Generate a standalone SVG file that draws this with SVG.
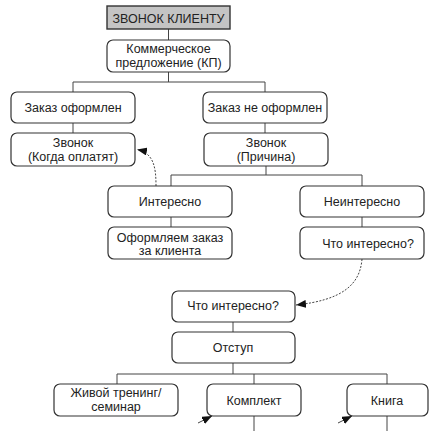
<svg xmlns="http://www.w3.org/2000/svg" width="438" height="431" viewBox="0 0 438 431">
<defs>
<style>
.box{fill:#fff;stroke:#333;stroke-width:1.2}
.top{fill:#c4c4c4;stroke:#333;stroke-width:1.4}
.t{font-family:"Liberation Sans",Arial,sans-serif;font-size:12.5px;fill:#222;text-anchor:middle}
.ln{fill:none;stroke:#444;stroke-width:1}
.dash{fill:none;stroke:#444;stroke-width:1;stroke-dasharray:2 1.5}
</style>
<marker id="ah" viewBox="0 0 10 8" refX="10" refY="4" markerWidth="10" markerHeight="8" markerUnits="userSpaceOnUse" orient="auto">
<path d="M0,0 L10,4 L0,8 Z" fill="#111"/>
</marker>
</defs>
<rect width="438" height="431" fill="#fff"/>
<g id="connectors">
<path class="ln" d="M168.5,29V40"/>
<path class="ln" d="M168.5,72V82M73,92V82H265V92"/>
<path class="ln" d="M73,123V133M265,123V133"/>
<path class="ln" d="M266,166V175M171,186V175H362V186"/>
<path class="ln" d="M171,217V227M362,217V227"/>
<path class="ln" d="M233,322V332"/>
<path class="ln" d="M233,363V374M117,384V374H387V384M254,374V384"/>
<path class="ln" d="M254,416V431M387,416V431"/>
<path class="dash" d="M156,186C156,168 154,153 137,149.5" marker-end="url(#ah)"/>
<path class="dash" d="M362,259C360,285 342,300 296,305" marker-end="url(#ah)"/>
<path class="ln" d="M198,423L212,416" marker-end="url(#ah)"/>
<path class="ln" d="M338,423L352,416" marker-end="url(#ah)"/>
</g>
<g id="n_top"><rect class="top" x="107" y="6" width="123" height="23"/><text class="t" x="168.5" y="22.5">ЗВОНОК КЛИЕНТУ</text></g>
<g id="n_kp"><rect class="box" x="107" y="40" width="123" height="32" rx="6"/><text class="t" x="168.5" y="52.5">Коммерческое</text><text class="t" x="168.5" y="66.5">предложение (КП)</text></g>
<g id="n_zo"><rect class="box" x="11" y="92" width="124" height="31" rx="6"/><text class="t" x="73" y="111.5">Заказ оформлен</text></g>
<g id="n_zno"><rect class="box" x="203" y="92" width="124" height="31" rx="6"/><text class="t" x="265" y="111.5">Заказ не оформлен</text></g>
<g id="n_call1"><rect class="box" x="11" y="133" width="124" height="33" rx="6"/><text class="t" x="73" y="146.5">Звонок</text><text class="t" x="73" y="160.5">(Когда оплатят)</text></g>
<g id="n_call2"><rect class="box" x="204" y="133" width="124" height="33" rx="6"/><text class="t" x="266" y="146.5">Звонок</text><text class="t" x="266" y="160.5">(Причина)</text></g>
<g id="n_int"><rect class="box" x="108" y="186" width="124" height="31" rx="6"/><text class="t" x="170" y="205.5">Интересно</text></g>
<g id="n_nint"><rect class="box" x="300" y="186" width="124" height="31" rx="6"/><text class="t" x="362" y="205.5">Неинтересно</text></g>
<g id="n_order"><rect class="box" x="108" y="227" width="124" height="32" rx="6"/><text class="t" x="170" y="241.5">Оформляем заказ</text><text class="t" x="170" y="255">за клиента</text></g>
<g id="n_what1"><rect class="box" x="300" y="227" width="124" height="32" rx="6"/><text class="t" x="368" y="247.5">Что интересно?</text></g>
<g id="n_what2"><rect class="box" x="172" y="291" width="123" height="31" rx="6"/><text class="t" x="233" y="309.5">Что интересно?</text></g>
<g id="n_otstup"><rect class="box" x="172" y="332" width="123" height="31" rx="6"/><text class="t" x="233" y="351.5">Отступ</text></g>
<g id="n_live"><rect class="box" x="54" y="384" width="124" height="32" rx="6"/><text class="t" x="116" y="396.5">Живой тренинг/</text><text class="t" x="116" y="411">семинар</text></g>
<g id="n_kompl"><rect class="box" x="207" y="384" width="94" height="32" rx="6"/><text class="t" x="254" y="404.5">Комплект</text></g>
<g id="n_book"><rect class="box" x="347" y="384" width="81" height="32" rx="6"/><text class="t" x="387" y="404.5">Книга</text></g>
</svg>
